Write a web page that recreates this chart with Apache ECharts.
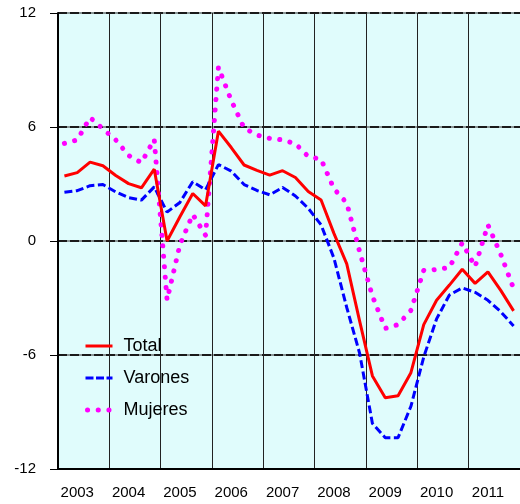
<!DOCTYPE html>
<html>
<head>
<meta charset="utf-8">
<script src="https://cdn.jsdelivr.net/npm/echarts@6/dist/echarts.min.js"></script>
<style>
html, body { margin: 0; padding: 0; background: #fff; }
#chart { width: 520px; height: 504px; }
</style>
</head>
<body>
<div id="chart"></div>
<script>
// años y trimestres
var years = ['2003', '2004', '2005', '2006', '2007', '2008', '2009', '2010', '2011'];
var quarters = ['T1', 'T2', 'T3', 'T4'];

// tasas de variación interanual (%)
var total = [3.42, 3.6, 4.15, 3.96, 3.45, 3.02, 2.8, 3.78,
    0.0, 1.28, 2.5, 1.85, 5.78, 4.92, 4.0, 3.72,
    3.47, 3.7, 3.34, 2.6, 2.16, 0.4, -1.2, -4.2,
    -7.1, -8.25, -8.15, -6.93, -4.4, -3.12, -2.32, -1.49,
    -2.23, -1.62, -2.6, -3.68];
var varones = [2.56, 2.65, 2.91, 2.97, 2.58, 2.28, 2.15, 2.85,
    1.52, 2.03, 3.12, 2.7, 4.02, 3.68, 2.97, 2.66,
    2.43, 2.82, 2.37, 1.72, 0.85, -0.9, -3.5, -5.9,
    -9.6, -10.35, -10.35, -8.7, -6.1, -4.1, -2.84, -2.47,
    -2.7, -3.12, -3.72, -4.47];
var mujeres = [5.14, 5.32, 6.5, 5.9, 5.32, 4.5, 4.12, 5.35,
    -3.1, -0.2, 1.4, 0.3, 9.15, 7.4, 5.95, 5.58,
    5.4, 5.32, 5.12, 4.45, 4.3, 2.75, 2.0, -0.55,
    -2.9, -4.6, -4.4, -3.65, -1.55, -1.5, -1.4, -0.1,
    -1.35, 0.85, -0.7, -2.5];

var yTicks = { min: -12, max: 12, interval: 6 };

var categories = [];
years.forEach(function (y) {
    quarters.forEach(function (q) { categories.push(y + ' ' + q); });
});

var font = "'Liberation Sans', Arial, sans-serif";
var myChart = echarts.init(document.getElementById('chart'), null, { renderer: 'canvas' });

var option = {
    animation: false,
    grid: {
        left: 58, top: 13, right: 0, bottom: 35,
        show: true, backgroundColor: '#E0FCFC', borderWidth: 0
    },
    legend: {
        orient: 'vertical',
        left: 83,
        top: 337,
        padding: 0,
        itemWidth: 27,
        itemHeight: 18,
        itemGap: 14,
        itemStyle: { opacity: 0 },
        textStyle: { fontFamily: font, fontSize: 18, color: '#000', lineHeight: 18, padding: [0, 0, 0, 6] },
        data: [
            { name: 'Total', lineStyle: { width: 3 } },
            { name: 'Varones', lineStyle: { width: 3, type: [8, 2.5] } },
            { name: 'Mujeres', lineStyle: { width: 5, type: [0.1, 10.6], cap: 'round', dashOffset: -2 } }
        ]
    },
    xAxis: {
        type: 'category',
        data: categories,
        boundaryGap: true,
        axisLine: { onZero: false, lineStyle: { color: '#000', width: 2 } },
        axisTick: { show: false },
        axisLabel: {
            interval: function (index) { return index % 4 === 1; },
            formatter: function (v) { return v.slice(0, 4); },
            fontFamily: font, fontSize: 15, color: '#000', margin: 16
        },
        splitLine: { show: true, interval: 3, lineStyle: { color: '#222', width: 1 } }
    },
    yAxis: [{
        type: 'value',
        position: 'left',
        min: yTicks.min, max: yTicks.max, interval: yTicks.interval,
        axisLine: { show: false },
        axisTick: { show: false },
        axisLabel: { show: false },
        splitLine: { show: true, lineStyle: { color: '#8a9696', width: 2 } }
    }, {
        type: 'value',
        position: 'left',
        min: yTicks.min, max: yTicks.max, interval: yTicks.interval,
        axisLine: { show: true, lineStyle: { color: '#000', width: 2 } },
        axisTick: { show: true, length: 8, lineStyle: { color: '#000', width: 1 } },
        axisLabel: { fontFamily: font, fontSize: 15, color: '#000', margin: 22 },
        splitLine: { show: true, lineStyle: { color: '#1a1a1a', width: 2, type: [9, 3] } }
    }],
    series: [{
        name: 'Total',
        type: 'line',
        yAxisIndex: 1,
        data: total,
        symbol: 'none',
        itemStyle: { color: '#FF0000' },
        lineStyle: { color: '#FF0000', width: 3 },
        z: 4
    }, {
        name: 'Varones',
        type: 'line',
        yAxisIndex: 1,
        data: varones,
        symbol: 'none',
        itemStyle: { color: '#0000FF' },
        lineStyle: { color: '#0000FF', width: 3, type: [8, 3.5] },
        z: 3
    }, {
        name: 'Mujeres',
        type: 'line',
        yAxisIndex: 1,
        data: mujeres,
        symbol: 'none',
        itemStyle: { color: '#FF00FF' },
        lineStyle: { color: '#FF00FF', width: 5, type: [0.1, 10.4], cap: 'round' },
        z: 2
    }]
};

myChart.setOption(option, true);
</script>
</body>
</html>
